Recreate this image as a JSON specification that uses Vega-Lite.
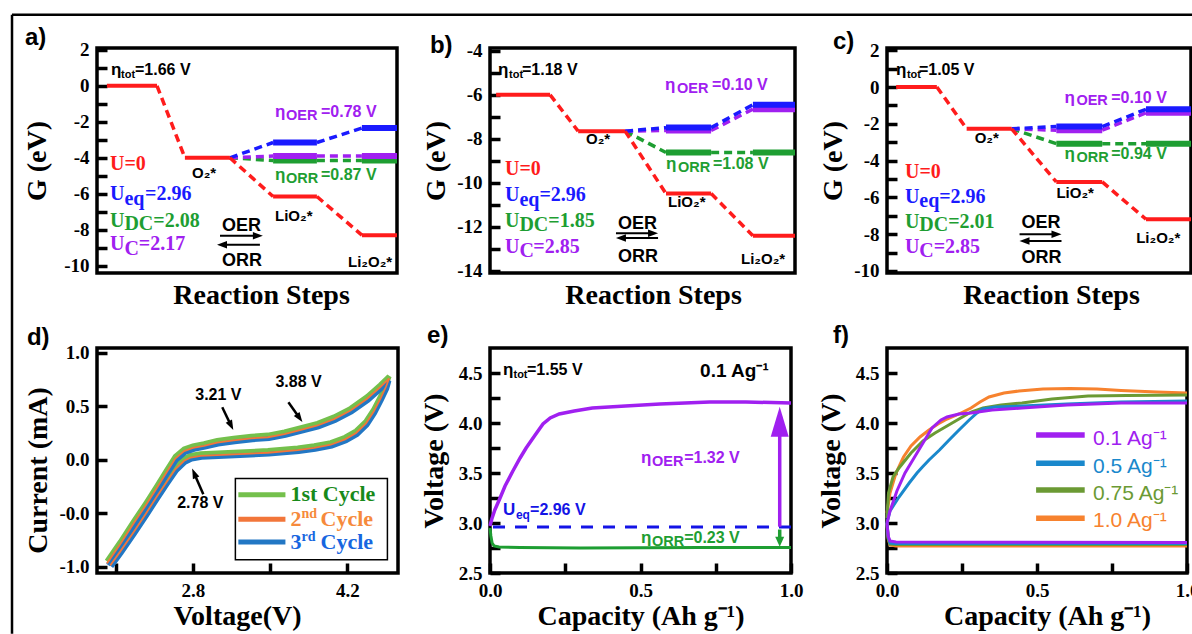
{
"$schema": "https://vega.github.io/schema/vega-lite/v6.json",
"autosize": {"type": "none"},
"padding": {"left": 97, "top": 48, "right": 1095, "bottom": 586},
"background": "white",
"config": {
 "view": {"stroke": "black", "strokeWidth": 3.5},
 "axis": {"domain": false, "grid": false, "tickColor": "black", "tickWidth": 3.5, "tickSize": 10, "offset": -10, "labelPadding": 8, "labelFont": "Liberation Serif", "labelFontWeight": "bold", "labelFontSize": 19, "labelColor": "black", "labelOverlap": false, "labelFlush": false, "titleFont": "Liberation Serif", "titleFontWeight": "bold", "titleFontSize": 28, "titleColor": "black"}
},
"columns": 3,
"spacing": {"row": 75, "column": 92},
"bounds": "flush",
"resolve": {"scale": {"color": "independent", "size": "independent", "shape": "independent"}},
"concat": [
{
 "width": 300, "height": 225,
 "data": {"values": [
  {"c":"UDC","k":"conn","x":4.43,"y":-4,"x2":5.87,"y2":-4.15},
  {"c":"UDC","k":"level","x":5.87,"y":-4.15,"x2":7.33,"y2":-4.15},
  {"c":"UDC","k":"conn","x":7.33,"y":-4.15,"x2":8.83,"y2":-4.15},
  {"c":"UDC","k":"level","x":8.83,"y":-4.15,"x2":10,"y2":-4.15},
  {"c":"UC","k":"conn","x":4.43,"y":-4,"x2":5.87,"y2":-3.9},
  {"c":"UC","k":"level","x":5.87,"y":-3.9,"x2":7.33,"y2":-3.9},
  {"c":"UC","k":"conn","x":7.33,"y":-3.9,"x2":8.83,"y2":-3.9},
  {"c":"UC","k":"level","x":8.83,"y":-3.9,"x2":10,"y2":-3.9},
  {"c":"Ueq","k":"conn","x":4.43,"y":-4,"x2":5.87,"y2":-3.15},
  {"c":"Ueq","k":"level","x":5.87,"y":-3.15,"x2":7.33,"y2":-3.15},
  {"c":"Ueq","k":"conn","x":7.33,"y":-3.15,"x2":8.83,"y2":-2.35},
  {"c":"Ueq","k":"level","x":8.83,"y":-2.35,"x2":10,"y2":-2.35},
  {"c":"U0","k":"level","x":0.33,"y":0,"x2":2.0,"y2":0},
  {"c":"U0","k":"conn","x":2.0,"y":0,"x2":2.93,"y2":-4},
  {"c":"U0","k":"level","x":2.93,"y":-4,"x2":4.43,"y2":-4},
  {"c":"U0","k":"conn","x":4.43,"y":-4,"x2":5.87,"y2":-6.15},
  {"c":"U0","k":"level","x":5.87,"y":-6.15,"x2":7.33,"y2":-6.15},
  {"c":"U0","k":"conn","x":7.33,"y":-6.15,"x2":8.83,"y2":-8.3},
  {"c":"U0","k":"level","x":8.83,"y":-8.3,"x2":10,"y2":-8.3}
 ]},
 "encoding": {
  "x": {"field": "x", "type": "quantitative", "scale": {"domain": [0, 10]}, "axis": {"title": "Reaction Steps", "labels": false, "ticks": false, "offset": 0, "titlePadding": 8, "titleX": 164}},
  "y": {"field": "y", "type": "quantitative", "scale": {"domain": [-10.4, 2.1]}, "axis": {"title": "G (eV)", "values": [-10,-9,-8,-7,-6,-5,-4,-3,-2,-1,0,1,2], "labelExpr": "datum.value % 2 != 0 ? '' : (datum.value < 0 ? '-' + abs(datum.value) : '' + datum.value)", "titlePadding": 12}}
 },
 "layer": [
  {"data": {"values": [{"x":-2.833,"y":3.944,"x2":36.5,"y2":3.944},{"x":-2.833,"y":3.944,"x2":-2.833,"y2":-30.44}]},
   "mark": {"type": "rule", "strokeWidth": 2.5, "color": "black"},
   "encoding": {"x2": {"field": "x2"}, "y2": {"field": "y2"}}},
  {"data": {"values": [{"x":-2.4,"y":2.28,"t":"a)"}]},
   "mark": {"type": "text", "font": "Liberation Sans", "fontWeight": "bold", "fontSize": 24, "align": "left", "baseline": "alphabetic", "color": "black"},
   "encoding": {"text": {"field": "t", "type": "nominal"}}},
  {"transform": [{"filter": "datum.k == 'conn'"}],
   "mark": {"type": "rule", "strokeWidth": 3.5, "strokeDash": [8, 5]},
   "encoding": {"x2": {"field": "x2"}, "y2": {"field": "y2"}, "color": {"field": "c", "type": "nominal", "scale": {"domain": ["k","U0","Ueq","UDC","UC"], "range": ["#000000","#ff1c1c","#1a1aff","#1e9e32","#a020f0"]}, "legend": null}}},
  {"transform": [{"filter": "datum.k == 'level' && datum.c != 'U0'"}],
   "mark": {"type": "rule", "strokeWidth": 6},
   "encoding": {"x2": {"field": "x2"}, "y2": {"field": "y2"}, "color": {"field": "c", "type": "nominal", "scale": {"domain": ["k","U0","Ueq","UDC","UC"], "range": ["#000000","#ff1c1c","#1a1aff","#1e9e32","#a020f0"]}, "legend": null}}},
  {"transform": [{"filter": "datum.k == 'level' && datum.c == 'U0'"}],
   "mark": {"type": "rule", "strokeWidth": 4, "color": "#ff1c1c"},
   "encoding": {"x2": {"field": "x2"}, "y2": {"field": "y2"}}},
  {"data": {"values": [{"x":4.1,"y":-8.33,"x2":5.363,"y2":-8.33},{"x":5.43,"y":-8.83,"x2":4.167,"y2":-8.83}]},
   "mark": {"type": "rule", "strokeWidth": 2, "color": "black"},
   "encoding": {"x2": {"field": "x2"}, "y2": {"field": "y2"}}},
  {"data": {"values": [{"x":5.363,"y":-8.33,"id":"R"},{"x":4.167,"y":-8.83,"id":"L"}]},
   "mark": {"type": "point", "filled": true, "color": "black", "size": 100, "opacity": 1, "strokeWidth": 0},
   "encoding": {"shape": {"field": "id", "type": "nominal", "scale": {"domain": ["R","L"], "range": ["M1,0L-1,-0.75L-1,0.75Z","M-1,0L1,-0.75L1,0.75Z"]}, "legend": null}}},
  {"data": {"values": [
    {"x":0.467,"y":0.611,"t":"η","r":"eta","c":"k"},
    {"x":0.8,"y":0.444,"t":"tot","r":"sub","c":"k"},
    {"x":1.267,"y":0.611,"t":"=1.66 V","r":"lab","c":"k"},
    {"x":3.167,"y":-5.11,"t":"O₂*","r":"sp","c":"k"},
    {"x":5.933,"y":-7.5,"t":"LiO₂*","r":"sp","c":"k"},
    {"x":8.367,"y":-10.06,"t":"Li₂O₂*","r":"sp","c":"k"},
    {"x":5.933,"y":-1.72,"t":"η","r":"eta","c":"UC"},
    {"x":6.3,"y":-1.89,"t":"OER","r":"subL","c":"UC"},
    {"x":7.467,"y":-1.72,"t":"=0.78 V","r":"lab","c":"UC"},
    {"x":5.933,"y":-5.22,"t":"η","r":"eta","c":"UDC"},
    {"x":6.3,"y":-5.39,"t":"ORR","r":"subL","c":"UDC"},
    {"x":7.467,"y":-5.22,"t":"=0.87 V","r":"lab","c":"UDC"},
    {"x":4.167,"y":-8.06,"t":"OER","r":"arr","c":"k"},
    {"x":4.167,"y":-10.0,"t":"ORR","r":"arr","c":"k"}
   ]},
   "mark": {"type": "text", "font": "Liberation Sans", "fontWeight": "bold", "align": "left", "baseline": "alphabetic"},
   "encoding": {"text": {"field": "t", "type": "nominal"},
    "size": {"field": "r", "type": "ordinal", "scale": {"type": "ordinal", "domain": ["eta","lab","sub","subL","sp","arr","ag","sub2","d","U","leg","legs"], "range": [17,16,11,14.5,15,18,19,12,16,20,22,14]}, "legend": null},
    "color": {"field": "c", "type": "nominal", "scale": {"domain": ["k","U0","Ueq","UDC","UC"], "range": ["#000000","#ff1c1c","#1a1aff","#1e9e32","#a020f0"]}, "legend": null}}},
  {"data": {"values": [
    {"x":0.433,"y":-4.67,"t":"U=0","r":"U","c":"U0"},
    {"x":0.433,"y":-6.33,"t":"U","r":"U","c":"Ueq"},
    {"x":0.913,"y":-6.61,"t":"eq","r":"U","c":"Ueq"},
    {"x":1.6,"y":-6.33,"t":"=2.96","r":"U","c":"Ueq"},
    {"x":0.433,"y":-7.83,"t":"U","r":"U","c":"UDC"},
    {"x":0.913,"y":-8.0,"t":"DC","r":"U","c":"UDC"},
    {"x":1.877,"y":-7.83,"t":"=2.08","r":"U","c":"UDC"},
    {"x":0.433,"y":-9.11,"t":"U","r":"U","c":"UC"},
    {"x":0.913,"y":-9.39,"t":"C","r":"U","c":"UC"},
    {"x":1.393,"y":-9.11,"t":"=2.17","r":"U","c":"UC"}
   ]},
   "mark": {"type": "text", "font": "Liberation Serif", "fontWeight": "bold", "align": "left", "baseline": "alphabetic"},
   "encoding": {"text": {"field": "t", "type": "nominal"},
    "size": {"field": "r", "type": "ordinal", "scale": {"type": "ordinal", "domain": ["eta","lab","sub","subL","sp","arr","ag","sub2","d","U","leg","legs"], "range": [17,16,11,14.5,15,18,19,12,16,20,22,14]}, "legend": null},
    "color": {"field": "c", "type": "nominal", "scale": {"domain": ["k","U0","Ueq","UDC","UC"], "range": ["#000000","#ff1c1c","#1a1aff","#1e9e32","#a020f0"]}, "legend": null}}}
 ]
},
{
 "width": 305, "height": 225,
 "data": {"values": [
  {"c":"UDC","k":"conn","x":4.43,"y":-7.65,"x2":5.77,"y2":-8.62},
  {"c":"UDC","k":"level","x":5.77,"y":-8.62,"x2":7.25,"y2":-8.62},
  {"c":"UDC","k":"conn","x":7.25,"y":-8.62,"x2":8.62,"y2":-8.62},
  {"c":"UDC","k":"level","x":8.62,"y":-8.62,"x2":10,"y2":-8.62},
  {"c":"UC","k":"conn","x":4.43,"y":-7.65,"x2":5.77,"y2":-7.62},
  {"c":"UC","k":"level","x":5.77,"y":-7.62,"x2":7.25,"y2":-7.62},
  {"c":"UC","k":"conn","x":7.25,"y":-7.62,"x2":8.62,"y2":-6.65},
  {"c":"UC","k":"level","x":8.62,"y":-6.65,"x2":10,"y2":-6.65},
  {"c":"Ueq","k":"conn","x":4.43,"y":-7.65,"x2":5.77,"y2":-7.49},
  {"c":"Ueq","k":"level","x":5.77,"y":-7.49,"x2":7.25,"y2":-7.49},
  {"c":"Ueq","k":"conn","x":7.25,"y":-7.49,"x2":8.62,"y2":-6.45},
  {"c":"Ueq","k":"level","x":8.62,"y":-6.45,"x2":10,"y2":-6.45},
  {"c":"U0","k":"level","x":0.2,"y":-6,"x2":1.97,"y2":-6},
  {"c":"U0","k":"conn","x":1.97,"y":-6,"x2":2.89,"y2":-7.65},
  {"c":"U0","k":"level","x":2.89,"y":-7.65,"x2":4.43,"y2":-7.65},
  {"c":"U0","k":"conn","x":4.43,"y":-7.65,"x2":5.77,"y2":-10.49},
  {"c":"U0","k":"level","x":5.77,"y":-10.49,"x2":7.25,"y2":-10.49},
  {"c":"U0","k":"conn","x":7.25,"y":-10.49,"x2":8.62,"y2":-12.41},
  {"c":"U0","k":"level","x":8.62,"y":-12.41,"x2":10,"y2":-12.41}
 ]},
 "encoding": {
  "x": {"field": "x", "type": "quantitative", "scale": {"domain": [0, 10]}, "axis": {"title": "Reaction Steps", "labels": false, "ticks": false, "offset": 0, "titlePadding": 8, "titleX": 163}},
  "y": {"field": "y", "type": "quantitative", "scale": {"domain": [-14.1, -3.87]}, "axis": {"title": "G (eV)", "values": [-14,-13,-12,-11,-10,-9,-8,-7,-6,-5,-4], "labelExpr": "datum.value % 2 != 0 ? '' : (datum.value < 0 ? '-' + abs(datum.value) : '' + datum.value)", "titlePadding": 6}}
 },
 "layer": [
  {"data": {"values": [{"x":-1.97,"y":-4.09,"t":"b)"}]},
   "mark": {"type": "text", "font": "Liberation Sans", "fontWeight": "bold", "fontSize": 24, "align": "left", "baseline": "alphabetic", "color": "black"},
   "encoding": {"text": {"field": "t", "type": "nominal"}}},
  {"transform": [{"filter": "datum.k == 'conn'"}],
   "mark": {"type": "rule", "strokeWidth": 3.5, "strokeDash": [8, 5]},
   "encoding": {"x2": {"field": "x2"}, "y2": {"field": "y2"}, "color": {"field": "c", "type": "nominal", "scale": {"domain": ["k","U0","Ueq","UDC","UC"], "range": ["#000000","#ff1c1c","#1a1aff","#1e9e32","#a020f0"]}, "legend": null}}},
  {"transform": [{"filter": "datum.k == 'level' && datum.c != 'U0'"}],
   "mark": {"type": "rule", "strokeWidth": 6},
   "encoding": {"x2": {"field": "x2"}, "y2": {"field": "y2"}, "color": {"field": "c", "type": "nominal", "scale": {"domain": ["k","U0","Ueq","UDC","UC"], "range": ["#000000","#ff1c1c","#1a1aff","#1e9e32","#a020f0"]}, "legend": null}}},
  {"transform": [{"filter": "datum.k == 'level' && datum.c == 'U0'"}],
   "mark": {"type": "rule", "strokeWidth": 4, "color": "#ff1c1c"},
   "encoding": {"x2": {"field": "x2"}, "y2": {"field": "y2"}}},
  {"data": {"values": [{"x":4.13,"y":-12.29,"x2":5.346,"y2":-12.29},{"x":5.51,"y":-12.51,"x2":4.294,"y2":-12.51}]},
   "mark": {"type": "rule", "strokeWidth": 2, "color": "black"},
   "encoding": {"x2": {"field": "x2"}, "y2": {"field": "y2"}}},
  {"data": {"values": [{"x":5.346,"y":-12.29,"id":"R"},{"x":4.294,"y":-12.51,"id":"L"}]},
   "mark": {"type": "point", "filled": true, "color": "black", "size": 100, "opacity": 1, "strokeWidth": 0},
   "encoding": {"shape": {"field": "id", "type": "nominal", "scale": {"domain": ["R","L"], "range": ["M1,0L-1,-0.75L-1,0.75Z","M-1,0L1,-0.75L1,0.75Z"]}, "legend": null}}},
  {"data": {"values": [
    {"x":0.262,"y":-5.09,"t":"η","r":"eta","c":"k"},
    {"x":0.623,"y":-5.23,"t":"tot","r":"sub","c":"k"},
    {"x":1.049,"y":-5.09,"t":"=1.18 V","r":"lab","c":"k"},
    {"x":3.148,"y":-8.24,"t":"O₂*","r":"sp","c":"k"},
    {"x":5.836,"y":-11.12,"t":"LiO₂*","r":"sp","c":"k"},
    {"x":8.23,"y":-13.7,"t":"Li₂O₂*","r":"sp","c":"k"},
    {"x":5.74,"y":-5.79,"t":"η","r":"eta","c":"UC"},
    {"x":6.13,"y":-5.91,"t":"OER","r":"subL","c":"UC"},
    {"x":7.28,"y":-5.79,"t":"=0.10 V","r":"lab","c":"UC"},
    {"x":5.77,"y":-9.38,"t":"η","r":"eta","c":"UDC"},
    {"x":6.16,"y":-9.5,"t":"ORR","r":"subL","c":"UDC"},
    {"x":7.31,"y":-9.38,"t":"=1.08 V","r":"lab","c":"UDC"},
    {"x":4.197,"y":-12.08,"t":"OER","r":"arr","c":"k"},
    {"x":4.197,"y":-13.62,"t":"ORR","r":"arr","c":"k"}
   ]},
   "mark": {"type": "text", "font": "Liberation Sans", "fontWeight": "bold", "align": "left", "baseline": "alphabetic"},
   "encoding": {"text": {"field": "t", "type": "nominal"},
    "size": {"field": "r", "type": "ordinal", "scale": {"type": "ordinal", "domain": ["eta","lab","sub","subL","sp","arr","ag","sub2","d","U","leg","legs"], "range": [17,16,11,14.5,15,18,19,12,16,20,22,14]}, "legend": null},
    "color": {"field": "c", "type": "nominal", "scale": {"domain": ["k","U0","Ueq","UDC","UC"], "range": ["#000000","#ff1c1c","#1a1aff","#1e9e32","#a020f0"]}, "legend": null}}},
  {"data": {"values": [
    {"x":0.492,"y":-9.64,"t":"U=0","r":"U","c":"U0"},
    {"x":0.492,"y":-10.82,"t":"U","r":"U","c":"Ueq"},
    {"x":0.964,"y":-11.05,"t":"eq","r":"U","c":"Ueq"},
    {"x":1.62,"y":-10.82,"t":"=2.96","r":"U","c":"Ueq"},
    {"x":0.492,"y":-12.03,"t":"U","r":"U","c":"UDC"},
    {"x":0.964,"y":-12.18,"t":"DC","r":"U","c":"UDC"},
    {"x":1.91,"y":-12.03,"t":"=1.85","r":"U","c":"UDC"},
    {"x":0.492,"y":-13.17,"t":"U","r":"U","c":"UC"},
    {"x":0.964,"y":-13.36,"t":"C","r":"U","c":"UC"},
    {"x":1.42,"y":-13.17,"t":"=2.85","r":"U","c":"UC"}
   ]},
   "mark": {"type": "text", "font": "Liberation Serif", "fontWeight": "bold", "align": "left", "baseline": "alphabetic"},
   "encoding": {"text": {"field": "t", "type": "nominal"},
    "size": {"field": "r", "type": "ordinal", "scale": {"type": "ordinal", "domain": ["eta","lab","sub","subL","sp","arr","ag","sub2","d","U","leg","legs"], "range": [17,16,11,14.5,15,18,19,12,16,20,22,14]}, "legend": null},
    "color": {"field": "c", "type": "nominal", "scale": {"domain": ["k","U0","Ueq","UDC","UC"], "range": ["#000000","#ff1c1c","#1a1aff","#1e9e32","#a020f0"]}, "legend": null}}}
 ]
},
{
 "width": 304, "height": 225,
 "data": {"values": [
  {"c":"UDC","k":"conn","x":4.1,"y":-2.27,"x2":5.57,"y2":-3.08},
  {"c":"UDC","k":"level","x":5.57,"y":-3.08,"x2":7.08,"y2":-3.08},
  {"c":"UDC","k":"conn","x":7.08,"y":-3.08,"x2":8.52,"y2":-3.08},
  {"c":"UDC","k":"level","x":8.52,"y":-3.08,"x2":10,"y2":-3.08},
  {"c":"UC","k":"conn","x":4.1,"y":-2.27,"x2":5.57,"y2":-2.35},
  {"c":"UC","k":"level","x":5.57,"y":-2.35,"x2":7.08,"y2":-2.35},
  {"c":"UC","k":"conn","x":7.08,"y":-2.35,"x2":8.52,"y2":-1.4},
  {"c":"UC","k":"level","x":8.52,"y":-1.4,"x2":10,"y2":-1.4},
  {"c":"Ueq","k":"conn","x":4.1,"y":-2.27,"x2":5.57,"y2":-2.15},
  {"c":"Ueq","k":"level","x":5.57,"y":-2.15,"x2":7.08,"y2":-2.15},
  {"c":"Ueq","k":"conn","x":7.08,"y":-2.15,"x2":8.52,"y2":-1.21},
  {"c":"Ueq","k":"level","x":8.52,"y":-1.21,"x2":10,"y2":-1.21},
  {"c":"U0","k":"level","x":0.3,"y":0,"x2":1.64,"y2":0},
  {"c":"U0","k":"conn","x":1.64,"y":0,"x2":2.62,"y2":-2.27},
  {"c":"U0","k":"level","x":2.62,"y":-2.27,"x2":4.1,"y2":-2.27},
  {"c":"U0","k":"conn","x":4.1,"y":-2.27,"x2":5.57,"y2":-5.16},
  {"c":"U0","k":"level","x":5.57,"y":-5.16,"x2":7.08,"y2":-5.16},
  {"c":"U0","k":"conn","x":7.08,"y":-5.16,"x2":8.52,"y2":-7.19},
  {"c":"U0","k":"level","x":8.52,"y":-7.19,"x2":10,"y2":-7.19}
 ]},
 "encoding": {
  "x": {"field": "x", "type": "quantitative", "scale": {"domain": [0, 10]}, "axis": {"title": "Reaction Steps", "labels": false, "ticks": false, "offset": 0, "titlePadding": 8, "titleX": 164}},
  "y": {"field": "y", "type": "quantitative", "scale": {"domain": [-10.11, 2.12]}, "axis": {"title": "G (eV)", "values": [-10,-9,-8,-7,-6,-5,-4,-3,-2,-1,0,1,2], "labelExpr": "datum.value % 2 != 0 ? '' : (datum.value < 0 ? '-' + abs(datum.value) : '' + datum.value)", "titlePadding": 6}}
 },
 "layer": [
  {"data": {"values": [{"x":-1.78,"y":2.07,"t":"c)"}]},
   "mark": {"type": "text", "font": "Liberation Sans", "fontWeight": "bold", "fontSize": 24, "align": "left", "baseline": "alphabetic", "color": "black"},
   "encoding": {"text": {"field": "t", "type": "nominal"}}},
  {"transform": [{"filter": "datum.k == 'conn'"}],
   "mark": {"type": "rule", "strokeWidth": 3.5, "strokeDash": [8, 5]},
   "encoding": {"x2": {"field": "x2"}, "y2": {"field": "y2"}, "color": {"field": "c", "type": "nominal", "scale": {"domain": ["k","U0","Ueq","UDC","UC"], "range": ["#000000","#ff1c1c","#1a1aff","#1e9e32","#a020f0"]}, "legend": null}}},
  {"transform": [{"filter": "datum.k == 'level' && datum.c != 'U0'"}],
   "mark": {"type": "rule", "strokeWidth": 6},
   "encoding": {"x2": {"field": "x2"}, "y2": {"field": "y2"}, "color": {"field": "c", "type": "nominal", "scale": {"domain": ["k","U0","Ueq","UDC","UC"], "range": ["#000000","#ff1c1c","#1a1aff","#1e9e32","#a020f0"]}, "legend": null}}},
  {"transform": [{"filter": "datum.k == 'level' && datum.c == 'U0'"}],
   "mark": {"type": "rule", "strokeWidth": 4, "color": "#ff1c1c"},
   "encoding": {"x2": {"field": "x2"}, "y2": {"field": "y2"}}},
  {"data": {"values": [{"x":4.36,"y":-8.01,"x2":5.576,"y2":-8.01},{"x":5.74,"y":-8.37,"x2":4.524,"y2":-8.37}]},
   "mark": {"type": "rule", "strokeWidth": 2, "color": "black"},
   "encoding": {"x2": {"field": "x2"}, "y2": {"field": "y2"}}},
  {"data": {"values": [{"x":5.576,"y":-8.01,"id":"R"},{"x":4.524,"y":-8.37,"id":"L"}]},
   "mark": {"type": "point", "filled": true, "color": "black", "size": 100, "opacity": 1, "strokeWidth": 0},
   "encoding": {"shape": {"field": "id", "type": "nominal", "scale": {"domain": ["R","L"], "range": ["M1,0L-1,-0.75L-1,0.75Z","M-1,0L1,-0.75L1,0.75Z"]}, "legend": null}}},
  {"data": {"values": [
    {"x":0.295,"y":0.652,"t":"η","r":"eta","c":"k"},
    {"x":0.656,"y":0.489,"t":"tot","r":"sub","c":"k"},
    {"x":1.049,"y":0.652,"t":"=1.05 V","r":"lab","c":"k"},
    {"x":2.885,"y":-3.03,"t":"O₂*","r":"sp","c":"k"},
    {"x":5.574,"y":-6.01,"t":"LiO₂*","r":"sp","c":"k"},
    {"x":8.197,"y":-8.46,"t":"Li₂O₂*","r":"sp","c":"k"},
    {"x":5.836,"y":-0.853,"t":"η","r":"eta","c":"UC"},
    {"x":6.23,"y":-1.0,"t":"OER","r":"subL","c":"UC"},
    {"x":7.377,"y":-0.853,"t":"=0.10 V","r":"lab","c":"UC"},
    {"x":5.836,"y":-3.93,"t":"η","r":"eta","c":"UDC"},
    {"x":6.23,"y":-4.08,"t":"ORR","r":"subL","c":"UDC"},
    {"x":7.377,"y":-3.93,"t":"=0.94 V","r":"lab","c":"UDC"},
    {"x":4.426,"y":-7.65,"t":"OER","r":"arr","c":"k"},
    {"x":4.426,"y":-9.55,"t":"ORR","r":"arr","c":"k"}
   ]},
   "mark": {"type": "text", "font": "Liberation Sans", "fontWeight": "bold", "align": "left", "baseline": "alphabetic"},
   "encoding": {"text": {"field": "t", "type": "nominal"},
    "size": {"field": "r", "type": "ordinal", "scale": {"type": "ordinal", "domain": ["eta","lab","sub","subL","sp","arr","ag","sub2","d","U","leg","legs"], "range": [17,16,11,14.5,15,18,19,12,16,20,22,14]}, "legend": null},
    "color": {"field": "c", "type": "nominal", "scale": {"domain": ["k","U0","Ueq","UDC","UC"], "range": ["#000000","#ff1c1c","#1a1aff","#1e9e32","#a020f0"]}, "legend": null}}},
  {"data": {"values": [
    {"x":0.59,"y":-4.93,"t":"U=0","r":"U","c":"U0"},
    {"x":0.59,"y":-6.29,"t":"U","r":"U","c":"Ueq"},
    {"x":1.062,"y":-6.52,"t":"eq","r":"U","c":"Ueq"},
    {"x":1.718,"y":-6.29,"t":"=2.96","r":"U","c":"Ueq"},
    {"x":0.59,"y":-7.65,"t":"U","r":"U","c":"UDC"},
    {"x":1.062,"y":-7.83,"t":"DC","r":"U","c":"UDC"},
    {"x":2.011,"y":-7.65,"t":"=2.01","r":"U","c":"UDC"},
    {"x":0.59,"y":-9.0,"t":"U","r":"U","c":"UC"},
    {"x":1.062,"y":-9.24,"t":"C","r":"U","c":"UC"},
    {"x":1.534,"y":-9.0,"t":"=2.85","r":"U","c":"UC"}
   ]},
   "mark": {"type": "text", "font": "Liberation Serif", "fontWeight": "bold", "align": "left", "baseline": "alphabetic"},
   "encoding": {"text": {"field": "t", "type": "nominal"},
    "size": {"field": "r", "type": "ordinal", "scale": {"type": "ordinal", "domain": ["eta","lab","sub","subL","sp","arr","ag","sub2","d","U","leg","legs"], "range": [17,16,11,14.5,15,18,19,12,16,20,22,14]}, "legend": null},
    "color": {"field": "c", "type": "nominal", "scale": {"domain": ["k","U0","Ueq","UDC","UC"], "range": ["#000000","#ff1c1c","#1a1aff","#1e9e32","#a020f0"]}, "legend": null}}}
 ]
},
{
 "width": 301, "height": 225,
 "data": {"values": [
  {"c":"1","i":0,"x":2.02,"y":-0.95},{"c":"1","i":1,"x":2.14,"y":-0.77},{"c":"1","i":2,"x":2.26,"y":-0.58},{"c":"1","i":3,"x":2.37,"y":-0.41},{"c":"1","i":4,"x":2.47,"y":-0.25},{"c":"1","i":5,"x":2.56,"y":-0.10},{"c":"1","i":6,"x":2.64,"y":0.03},{"c":"1","i":7,"x":2.72,"y":0.10},{"c":"1","i":8,"x":2.80,"y":0.13},{"c":"1","i":9,"x":2.90,"y":0.15},{"c":"1","i":10,"x":3.02,"y":0.18},{"c":"1","i":11,"x":3.17,"y":0.20},{"c":"1","i":12,"x":3.33,"y":0.22},{"c":"1","i":13,"x":3.48,"y":0.23},{"c":"1","i":14,"x":3.63,"y":0.26},{"c":"1","i":15,"x":3.78,"y":0.30},{"c":"1","i":16,"x":3.93,"y":0.34},{"c":"1","i":17,"x":4.08,"y":0.40},{"c":"1","i":18,"x":4.23,"y":0.48},{"c":"1","i":19,"x":4.38,"y":0.59},{"c":"1","i":20,"x":4.50,"y":0.70},{"c":"1","i":21,"x":4.58,"y":0.78},{"c":"1","i":22,"x":4.55,"y":0.70},{"c":"1","i":23,"x":4.50,"y":0.59},{"c":"1","i":24,"x":4.44,"y":0.47},{"c":"1","i":25,"x":4.37,"y":0.36},{"c":"1","i":26,"x":4.28,"y":0.27},{"c":"1","i":27,"x":4.18,"y":0.21},{"c":"1","i":28,"x":4.05,"y":0.16},{"c":"1","i":29,"x":3.90,"y":0.13},{"c":"1","i":30,"x":3.75,"y":0.11},{"c":"1","i":31,"x":3.48,"y":0.085},{"c":"1","i":32,"x":3.17,"y":0.07},{"c":"1","i":33,"x":2.87,"y":0.055},{"c":"1","i":34,"x":2.78,"y":0.04},{"c":"1","i":35,"x":2.72,"y":0.01},{"c":"1","i":36,"x":2.64,"y":-0.07},{"c":"1","i":37,"x":2.56,"y":-0.19},{"c":"1","i":38,"x":2.47,"y":-0.33},{"c":"1","i":39,"x":2.37,"y":-0.49},{"c":"1","i":40,"x":2.26,"y":-0.66},{"c":"1","i":41,"x":2.14,"y":-0.84},{"c":"1","i":42,"x":2.05,"y":-0.97},
  {"c":"2","i":0,"x":2.02,"y":-0.97},{"c":"2","i":1,"x":2.14,"y":-0.79},{"c":"2","i":2,"x":2.26,"y":-0.60},{"c":"2","i":3,"x":2.37,"y":-0.43},{"c":"2","i":4,"x":2.47,"y":-0.27},{"c":"2","i":5,"x":2.56,"y":-0.12},{"c":"2","i":6,"x":2.64,"y":0.01},{"c":"2","i":7,"x":2.72,"y":0.08},{"c":"2","i":8,"x":2.80,"y":0.11},{"c":"2","i":9,"x":2.90,"y":0.13},{"c":"2","i":10,"x":3.02,"y":0.16},{"c":"2","i":11,"x":3.17,"y":0.18},{"c":"2","i":12,"x":3.33,"y":0.20},{"c":"2","i":13,"x":3.48,"y":0.21},{"c":"2","i":14,"x":3.63,"y":0.24},{"c":"2","i":15,"x":3.78,"y":0.28},{"c":"2","i":16,"x":3.93,"y":0.32},{"c":"2","i":17,"x":4.08,"y":0.38},{"c":"2","i":18,"x":4.23,"y":0.46},{"c":"2","i":19,"x":4.38,"y":0.57},{"c":"2","i":20,"x":4.50,"y":0.68},{"c":"2","i":21,"x":4.58,"y":0.76},{"c":"2","i":22,"x":4.55,"y":0.68},{"c":"2","i":23,"x":4.50,"y":0.57},{"c":"2","i":24,"x":4.44,"y":0.45},{"c":"2","i":25,"x":4.37,"y":0.34},{"c":"2","i":26,"x":4.28,"y":0.25},{"c":"2","i":27,"x":4.18,"y":0.19},{"c":"2","i":28,"x":4.05,"y":0.14},{"c":"2","i":29,"x":3.90,"y":0.11},{"c":"2","i":30,"x":3.75,"y":0.09},{"c":"2","i":31,"x":3.48,"y":0.065},{"c":"2","i":32,"x":3.17,"y":0.05},{"c":"2","i":33,"x":2.87,"y":0.035},{"c":"2","i":34,"x":2.78,"y":0.02},{"c":"2","i":35,"x":2.72,"y":-0.01},{"c":"2","i":36,"x":2.64,"y":-0.09},{"c":"2","i":37,"x":2.56,"y":-0.21},{"c":"2","i":38,"x":2.47,"y":-0.35},{"c":"2","i":39,"x":2.37,"y":-0.51},{"c":"2","i":40,"x":2.26,"y":-0.68},{"c":"2","i":41,"x":2.14,"y":-0.86},{"c":"2","i":42,"x":2.05,"y":-0.99},
  {"c":"3","i":0,"x":2.03,"y":-0.985},{"c":"3","i":1,"x":2.15,"y":-0.805},{"c":"3","i":2,"x":2.27,"y":-0.615},{"c":"3","i":3,"x":2.38,"y":-0.445},{"c":"3","i":4,"x":2.48,"y":-0.285},{"c":"3","i":5,"x":2.57,"y":-0.135},{"c":"3","i":6,"x":2.65,"y":-0.005},{"c":"3","i":7,"x":2.73,"y":0.065},{"c":"3","i":8,"x":2.81,"y":0.095},{"c":"3","i":9,"x":2.91,"y":0.115},{"c":"3","i":10,"x":3.03,"y":0.145},{"c":"3","i":11,"x":3.18,"y":0.165},{"c":"3","i":12,"x":3.34,"y":0.185},{"c":"3","i":13,"x":3.49,"y":0.195},{"c":"3","i":14,"x":3.64,"y":0.225},{"c":"3","i":15,"x":3.79,"y":0.265},{"c":"3","i":16,"x":3.94,"y":0.305},{"c":"3","i":17,"x":4.09,"y":0.365},{"c":"3","i":18,"x":4.24,"y":0.445},{"c":"3","i":19,"x":4.39,"y":0.555},{"c":"3","i":20,"x":4.51,"y":0.665},{"c":"3","i":21,"x":4.58,"y":0.74},{"c":"3","i":22,"x":4.56,"y":0.665},{"c":"3","i":23,"x":4.51,"y":0.555},{"c":"3","i":24,"x":4.45,"y":0.435},{"c":"3","i":25,"x":4.38,"y":0.325},{"c":"3","i":26,"x":4.29,"y":0.235},{"c":"3","i":27,"x":4.19,"y":0.175},{"c":"3","i":28,"x":4.06,"y":0.125},{"c":"3","i":29,"x":3.91,"y":0.095},{"c":"3","i":30,"x":3.76,"y":0.075},{"c":"3","i":31,"x":3.49,"y":0.05},{"c":"3","i":32,"x":3.18,"y":0.035},{"c":"3","i":33,"x":2.88,"y":0.02},{"c":"3","i":34,"x":2.79,"y":0.005},{"c":"3","i":35,"x":2.73,"y":-0.025},{"c":"3","i":36,"x":2.65,"y":-0.105},{"c":"3","i":37,"x":2.57,"y":-0.225},{"c":"3","i":38,"x":2.48,"y":-0.365},{"c":"3","i":39,"x":2.38,"y":-0.525},{"c":"3","i":40,"x":2.27,"y":-0.695},{"c":"3","i":41,"x":2.15,"y":-0.875},{"c":"3","i":42,"x":2.06,"y":-1.0}
 ]},
 "encoding": {
  "x": {"field": "x", "type": "quantitative", "scale": {"domain": [1.93, 4.66]}, "axis": {"title": "Voltage(V)", "values": [2.1, 2.8, 3.5, 4.2], "labelExpr": "datum.value == 2.8 || datum.value == 4.2 ? format(datum.value, '.1f') : ''", "titlePadding": 2, "titleX": 140}},
  "y": {"field": "y", "type": "quantitative", "scale": {"domain": [-1.06, 1.045]}, "axis": {"title": "Current (mA)", "values": [-1, -0.5, 0, 0.5, 1], "labelExpr": "datum.value == -0.5 ? '-0.0' : (datum.value < 0 ? '-' + format(abs(datum.value), '.1f') : format(datum.value, '.1f'))", "titlePadding": 6, "titleY": 122}}
 },
 "layer": [
  {"data": {"values": [{"x":1.294,"y":1.074,"t":"d)"}]},
   "mark": {"type": "text", "font": "Liberation Sans", "fontWeight": "bold", "fontSize": 24, "align": "left", "baseline": "alphabetic", "color": "black"},
   "encoding": {"text": {"field": "t", "type": "nominal"}}},
  {"transform": [{"filter": "datum.c == '1'"}], "mark": {"type": "line", "color": "#74c04c", "strokeWidth": 5}, "encoding": {"order": {"field": "i", "type": "quantitative"}}},
  {"transform": [{"filter": "datum.c == '3'"}], "mark": {"type": "line", "color": "#2277c4", "strokeWidth": 4.5}, "encoding": {"order": {"field": "i", "type": "quantitative"}}},
  {"transform": [{"filter": "datum.c == '2'"}], "mark": {"type": "line", "color": "#f2763a", "strokeWidth": 1.8}, "encoding": {"order": {"field": "i", "type": "quantitative"}}},
  {"data": {"values": [{"x":3.066,"y":0.49,"x2":3.146,"y2":0.319},{"x":3.666,"y":0.537,"x2":3.767,"y2":0.39},{"x":2.894,"y":-0.324,"x2":2.811,"y2":-0.126}]},
   "mark": {"type": "rule", "strokeWidth": 2.5, "color": "black"},
   "encoding": {"x2": {"field": "x2"}, "y2": {"field": "y2"}}},
  {"data": {"values": [{"x":3.146,"y":0.319,"id":"d1"},{"x":3.767,"y":0.39,"id":"d2"},{"x":2.811,"y":-0.126,"id":"d3"}]},
   "mark": {"type": "point", "filled": true, "color": "black", "size": 100, "opacity": 1, "strokeWidth": 0},
   "encoding": {"shape": {"field": "id", "type": "nominal", "scale": {"domain": ["d1","d2","d3"], "range": ["M0.44,0.9L-1.07,-0.59L0.19,-1.21Z","M0.57,0.82L-1.15,-0.42L0,-1.22Z","M-0.39,-0.92L1.04,0.65L-0.25,1.2Z"]}, "legend": null}}},
  {"data": {"values": [
    {"x":2.821,"y":0.556,"t":"3.21 V","r":"d"},
    {"x":3.548,"y":0.676,"t":"3.88 V","r":"d"},
    {"x":2.657,"y":-0.451,"t":"2.78 V","r":"d"}
   ]},
   "mark": {"type": "text", "font": "Liberation Sans", "fontWeight": "bold", "align": "left", "baseline": "alphabetic", "color": "black"},
   "encoding": {"text": {"field": "t", "type": "nominal"},
    "size": {"field": "r", "type": "ordinal", "scale": {"type": "ordinal", "domain": ["eta","lab","sub","subL","sp","arr","ag","sub2","d","U","leg","legs"], "range": [17,16,11,14.5,15,18,19,12,16,20,22,14]}, "legend": null}}},
  {"data": {"values": [{"x":3.185,"y":-0.176,"x2":4.564,"y2":-0.935}]},
   "mark": {"type": "rect", "fill": "white", "stroke": "black", "strokeWidth": 1.5},
   "encoding": {"x2": {"field": "x2"}, "y2": {"field": "y2"}}},
  {"data": {"values": [{"x":3.212,"y":-0.327,"x2":3.639,"y2":-0.327,"c":"1"},{"x":3.212,"y":-0.558,"x2":3.639,"y2":-0.558,"c":"2"},{"x":3.212,"y":-0.769,"x2":3.639,"y2":-0.769,"c":"3"}]},
   "mark": {"type": "rule", "strokeWidth": 5},
   "encoding": {"x2": {"field": "x2"}, "y2": {"field": "y2"}, "color": {"field": "c", "type": "nominal", "scale": {"domain": ["1","2","3","t1","t2","t3"], "range": ["#74c04c","#f2763a","#2277c4","#188a1a","#f68a3c","#1766e0"]}, "legend": null}}},
  {"data": {"values": [
    {"x":3.684,"y":-0.383,"t":"1st Cycle","r":"leg","c":"t1"},
    {"x":3.684,"y":-0.62,"t":"2","r":"leg","c":"t2"},
    {"x":3.785,"y":-0.545,"t":"nd","r":"legs","c":"t2"},
    {"x":3.957,"y":-0.62,"t":"Cycle","r":"leg","c":"t2"},
    {"x":3.684,"y":-0.836,"t":"3","r":"leg","c":"t3"},
    {"x":3.785,"y":-0.761,"t":"rd","r":"legs","c":"t3"},
    {"x":3.957,"y":-0.836,"t":"Cycle","r":"leg","c":"t3"}
   ]},
   "mark": {"type": "text", "font": "Liberation Serif", "fontWeight": "bold", "align": "left", "baseline": "alphabetic"},
   "encoding": {"text": {"field": "t", "type": "nominal"},
    "size": {"field": "r", "type": "ordinal", "scale": {"type": "ordinal", "domain": ["eta","lab","sub","subL","sp","arr","ag","sub2","d","U","leg","legs"], "range": [17,16,11,14.5,15,18,19,12,16,20,22,14]}, "legend": null},
    "color": {"field": "c", "type": "nominal", "scale": {"domain": ["1","2","3","t1","t2","t3"], "range": ["#74c04c","#f2763a","#2277c4","#188a1a","#f68a3c","#1766e0"]}, "legend": null}}}
 ]
},
{
 "width": 301, "height": 225,
 "data": {"values": [
  {"ph":"c","x":0,"y":2.97},{"ph":"c","x":0.006,"y":3.04},{"ph":"c","x":0.016,"y":3.13},{"ph":"c","x":0.032,"y":3.24},{"ph":"c","x":0.05,"y":3.37},{"ph":"c","x":0.076,"y":3.52},{"ph":"c","x":0.1,"y":3.65},{"ph":"c","x":0.12,"y":3.75},{"ph":"c","x":0.15,"y":3.88},{"ph":"c","x":0.176,"y":3.99},{"ph":"c","x":0.2,"y":4.05},{"ph":"c","x":0.23,"y":4.09},{"ph":"c","x":0.28,"y":4.12},{"ph":"c","x":0.34,"y":4.15},{"ph":"c","x":0.45,"y":4.17},{"ph":"c","x":0.565,"y":4.19},{"ph":"c","x":0.73,"y":4.21},{"ph":"c","x":0.85,"y":4.21},{"ph":"c","x":1.0,"y":4.2},
  {"ph":"d","x":0,"y":2.95},{"ph":"d","x":0.003,"y":2.87},{"ph":"d","x":0.007,"y":2.8},{"ph":"d","x":0.014,"y":2.77},{"ph":"d","x":0.03,"y":2.76},{"ph":"d","x":0.1,"y":2.755},{"ph":"d","x":0.3,"y":2.75},{"ph":"d","x":0.5,"y":2.752},{"ph":"d","x":0.7,"y":2.755},{"ph":"d","x":1.0,"y":2.755}
 ]},
 "encoding": {
  "x": {"field": "x", "type": "quantitative", "scale": {"domain": [0, 1]}, "axis": {"title": "Capacity (Ah g⁻¹)", "values": [0, 0.25, 0.5, 0.75, 1], "labelExpr": "(datum.value * 4) % 2 == 0 ? format(datum.value, '.1f') : ''", "titlePadding": 2}},
  "y": {"field": "y", "type": "quantitative", "scale": {"domain": [2.5, 4.75]}, "axis": {"title": "Voltage (V)", "values": [2.5, 2.75, 3, 3.25, 3.5, 3.75, 4, 4.25, 4.5], "labelExpr": "(datum.value * 4) % 2 == 0 ? format(datum.value, '.1f') : ''", "titlePadding": 10}}
 },
 "layer": [
  {"data": {"values": [{"x":-0.209,"y":4.8,"t":"e)"}]},
   "mark": {"type": "text", "font": "Liberation Sans", "fontWeight": "bold", "fontSize": 24, "align": "left", "baseline": "alphabetic", "color": "black"},
   "encoding": {"text": {"field": "t", "type": "nominal"}}},
  {"data": {"values": [{"x":0.01,"y":2.96,"x2":1,"y2":2.96}]},
   "mark": {"type": "rule", "strokeWidth": 3, "strokeDash": [12, 10], "color": "#1414e6"},
   "encoding": {"x2": {"field": "x2"}, "y2": {"field": "y2"}}},
  {"transform": [{"filter": "datum.ph == 'd'"}], "mark": {"type": "line", "color": "#1e9e32", "strokeWidth": 3}, "encoding": {}},
  {"transform": [{"filter": "datum.ph == 'c'"}], "mark": {"type": "line", "color": "#a020f0", "strokeWidth": 3.5}, "encoding": {}},
  {"data": {"values": [{"x":0.9625,"y":2.963,"x2":0.9625,"y2":4.013,"c":"p"},{"x":0.9625,"y":2.935,"x2":0.9625,"y2":2.813,"c":"g"}]},
   "mark": {"type": "rule", "strokeWidth": 3.5},
   "encoding": {"x2": {"field": "x2"}, "y2": {"field": "y2"}, "color": {"field": "c", "type": "nominal", "scale": {"domain": ["p","g","b","k"], "range": ["#a020f0","#1e9e32","#1414e6","#000000"]}, "legend": null}}},
  {"data": {"values": [{"x":0.9625,"y":4.013,"id":"U","c":"p"},{"x":0.9625,"y":2.813,"id":"D","c":"g"}]},
   "mark": {"type": "point", "filled": true, "size": 100, "opacity": 1, "strokeWidth": 0},
   "encoding": {"shape": {"field": "id", "type": "nominal", "scale": {"domain": ["U","D"], "range": ["M0,-3L1.8,3L-1.8,3Z","M0,1L0.9,-1L-0.9,-1Z"]}, "legend": null},
    "color": {"field": "c", "type": "nominal", "scale": {"domain": ["p","g","b","k"], "range": ["#a020f0","#1e9e32","#1414e6","#000000"]}, "legend": null}}},
  {"data": {"values": [
    {"x":0.043,"y":4.48,"t":"η","r":"eta","c":"k"},
    {"x":0.078,"y":4.45,"t":"tot","r":"sub","c":"k"},
    {"x":0.123,"y":4.48,"t":"=1.55 V","r":"lab","c":"k"},
    {"x":0.698,"y":4.46,"t":"0.1 Ag⁻¹","r":"ag","c":"k"},
    {"x":0.502,"y":3.6,"t":"η","r":"eta","c":"p"},
    {"x":0.538,"y":3.57,"t":"OER","r":"subL","c":"p"},
    {"x":0.645,"y":3.6,"t":"=1.32 V","r":"lab","c":"p"},
    {"x":0.043,"y":3.08,"t":"U","r":"eta","c":"b"},
    {"x":0.086,"y":3.04,"t":"eq","r":"sub2","c":"b"},
    {"x":0.133,"y":3.08,"t":"=2.96 V","r":"lab","c":"b"},
    {"x":0.502,"y":2.8,"t":"η","r":"eta","c":"g"},
    {"x":0.538,"y":2.77,"t":"ORR","r":"subL","c":"g"},
    {"x":0.645,"y":2.8,"t":"=0.23 V","r":"lab","c":"g"}
   ]},
   "mark": {"type": "text", "font": "Liberation Sans", "fontWeight": "bold", "align": "left", "baseline": "alphabetic"},
   "encoding": {"text": {"field": "t", "type": "nominal"},
    "size": {"field": "r", "type": "ordinal", "scale": {"type": "ordinal", "domain": ["eta","lab","sub","subL","sp","arr","ag","sub2","d","U","leg","legs"], "range": [17,16,11,14.5,15,18,19,12,16,20,22,14]}, "legend": null},
    "color": {"field": "c", "type": "nominal", "scale": {"domain": ["p","g","b","k"], "range": ["#a020f0","#1e9e32","#1414e6","#000000"]}, "legend": null}}}
 ]
},
{
 "width": 300, "height": 225,
 "data": {"values": [
  {"s":"1.0","ph":"c","x":0,"y":3.1},{"s":"1.0","ph":"c","x":0.01,"y":3.3},{"s":"1.0","ph":"c","x":0.03,"y":3.5},{"s":"1.0","ph":"c","x":0.055,"y":3.66},{"s":"1.0","ph":"c","x":0.08,"y":3.77},{"s":"1.0","ph":"c","x":0.11,"y":3.86},{"s":"1.0","ph":"c","x":0.14,"y":3.93},{"s":"1.0","ph":"c","x":0.17,"y":3.99},{"s":"1.0","ph":"c","x":0.2,"y":4.04},{"s":"1.0","ph":"c","x":0.24,"y":4.09},{"s":"1.0","ph":"c","x":0.28,"y":4.15},{"s":"1.0","ph":"c","x":0.31,"y":4.21},{"s":"1.0","ph":"c","x":0.34,"y":4.26},{"s":"1.0","ph":"c","x":0.39,"y":4.3},{"s":"1.0","ph":"c","x":0.44,"y":4.32},{"s":"1.0","ph":"c","x":0.52,"y":4.34},{"s":"1.0","ph":"c","x":0.61,"y":4.345},{"s":"1.0","ph":"c","x":0.7,"y":4.34},{"s":"1.0","ph":"c","x":0.78,"y":4.325},{"s":"1.0","ph":"c","x":0.9,"y":4.31},{"s":"1.0","ph":"c","x":1.0,"y":4.3},
  {"s":"1.0","ph":"d","x":0,"y":3.0},{"s":"1.0","ph":"d","x":0.004,"y":2.84},{"s":"1.0","ph":"d","x":0.01,"y":2.78},{"s":"1.0","ph":"d","x":0.03,"y":2.77},{"s":"1.0","ph":"d","x":1.0,"y":2.77},
  {"s":"0.75","ph":"c","x":0,"y":3.05},{"s":"0.75","ph":"c","x":0.005,"y":3.3},{"s":"0.75","ph":"c","x":0.02,"y":3.46},{"s":"0.75","ph":"c","x":0.04,"y":3.55},{"s":"0.75","ph":"c","x":0.08,"y":3.7},{"s":"0.75","ph":"c","x":0.12,"y":3.82},{"s":"0.75","ph":"c","x":0.16,"y":3.9},{"s":"0.75","ph":"c","x":0.2,"y":3.97},{"s":"0.75","ph":"c","x":0.24,"y":4.04},{"s":"0.75","ph":"c","x":0.28,"y":4.11},{"s":"0.75","ph":"c","x":0.32,"y":4.15},{"s":"0.75","ph":"c","x":0.38,"y":4.18},{"s":"0.75","ph":"c","x":0.45,"y":4.2},{"s":"0.75","ph":"c","x":0.55,"y":4.24},{"s":"0.75","ph":"c","x":0.67,"y":4.27},{"s":"0.75","ph":"c","x":0.8,"y":4.275},{"s":"0.75","ph":"c","x":1.0,"y":4.28},
  {"s":"0.75","ph":"d","x":0,"y":3.0},{"s":"0.75","ph":"d","x":0.004,"y":2.85},{"s":"0.75","ph":"d","x":0.01,"y":2.79},{"s":"0.75","ph":"d","x":0.03,"y":2.785},{"s":"0.75","ph":"d","x":1.0,"y":2.785},
  {"s":"0.5","ph":"c","x":0,"y":3.0},{"s":"0.5","ph":"c","x":0.01,"y":3.12},{"s":"0.5","ph":"c","x":0.04,"y":3.26},{"s":"0.5","ph":"c","x":0.074,"y":3.4},{"s":"0.5","ph":"c","x":0.1,"y":3.5},{"s":"0.5","ph":"c","x":0.118,"y":3.56},{"s":"0.5","ph":"c","x":0.14,"y":3.63},{"s":"0.5","ph":"c","x":0.175,"y":3.73},{"s":"0.5","ph":"c","x":0.207,"y":3.83},{"s":"0.5","ph":"c","x":0.24,"y":3.93},{"s":"0.5","ph":"c","x":0.274,"y":4.03},{"s":"0.5","ph":"c","x":0.3,"y":4.1},{"s":"0.5","ph":"c","x":0.319,"y":4.14},{"s":"0.5","ph":"c","x":0.36,"y":4.16},{"s":"0.5","ph":"c","x":0.45,"y":4.17},{"s":"0.5","ph":"c","x":0.6,"y":4.19},{"s":"0.5","ph":"c","x":0.78,"y":4.21},{"s":"0.5","ph":"c","x":1.0,"y":4.22},
  {"s":"0.5","ph":"d","x":0,"y":3.0},{"s":"0.5","ph":"d","x":0.004,"y":2.86},{"s":"0.5","ph":"d","x":0.01,"y":2.8},{"s":"0.5","ph":"d","x":0.03,"y":2.795},{"s":"0.5","ph":"d","x":1.0,"y":2.795},
  {"s":"0.1","ph":"c","x":0,"y":3.0},{"s":"0.1","ph":"c","x":0.01,"y":3.12},{"s":"0.1","ph":"c","x":0.033,"y":3.32},{"s":"0.1","ph":"c","x":0.06,"y":3.5},{"s":"0.1","ph":"c","x":0.09,"y":3.65},{"s":"0.1","ph":"c","x":0.12,"y":3.8},{"s":"0.1","ph":"c","x":0.15,"y":3.95},{"s":"0.1","ph":"c","x":0.18,"y":4.03},{"s":"0.1","ph":"c","x":0.2,"y":4.06},{"s":"0.1","ph":"c","x":0.24,"y":4.09},{"s":"0.1","ph":"c","x":0.28,"y":4.1},{"s":"0.1","ph":"c","x":0.35,"y":4.13},{"s":"0.1","ph":"c","x":0.45,"y":4.15},{"s":"0.1","ph":"c","x":0.6,"y":4.18},{"s":"0.1","ph":"c","x":0.78,"y":4.2},{"s":"0.1","ph":"c","x":1.0,"y":4.2},
  {"s":"0.1","ph":"d","x":0,"y":3.0},{"s":"0.1","ph":"d","x":0.004,"y":2.87},{"s":"0.1","ph":"d","x":0.01,"y":2.82},{"s":"0.1","ph":"d","x":0.03,"y":2.81},{"s":"0.1","ph":"d","x":1.0,"y":2.805}
 ]},
 "encoding": {
  "x": {"field": "x", "type": "quantitative", "scale": {"domain": [0, 1]}, "axis": {"title": "Capacity (Ah g⁻¹)", "values": [0, 0.25, 0.5, 0.75, 1], "labelExpr": "(datum.value * 4) % 2 == 0 ? format(datum.value, '.1f') : ''", "titlePadding": 2, "titleX": 160}},
  "y": {"field": "y", "type": "quantitative", "scale": {"domain": [2.5, 4.75]}, "axis": {"title": "Voltage (V)", "values": [2.5, 2.75, 3, 3.25, 3.5, 3.75, 4, 4.25, 4.5], "labelExpr": "(datum.value * 4) % 2 == 0 ? format(datum.value, '.1f') : ''", "titlePadding": 10}}
 },
 "layer": [
  {"data": {"values": [{"x":-0.18,"y":4.8,"t":"f)"}]},
   "mark": {"type": "text", "font": "Liberation Sans", "fontWeight": "bold", "fontSize": 24, "align": "left", "baseline": "alphabetic", "color": "black"},
   "encoding": {"text": {"field": "t", "type": "nominal"}}},
  {"mark": {"type": "line", "strokeWidth": 3},
   "encoding": {"detail": {"field": "ph", "type": "nominal"}, "color": {"field": "s", "type": "nominal", "sort": null, "scale": {"domain": ["0.1","0.5","0.75","1.0"], "range": ["#a020f0","#1a88cc","#6b9a34","#f7822e"]}, "legend": null}}},
  {"data": {"values": [{"x":0.497,"y":3.88,"x2":0.659,"y2":3.88,"s":"0.1"},{"x":0.497,"y":3.597,"x2":0.659,"y2":3.597,"s":"0.5"},{"x":0.497,"y":3.33,"x2":0.659,"y2":3.33,"s":"0.75"},{"x":0.497,"y":3.047,"x2":0.659,"y2":3.047,"s":"1.0"}]},
   "mark": {"type": "rule", "strokeWidth": 5.5},
   "encoding": {"x2": {"field": "x2"}, "y2": {"field": "y2"}, "color": {"field": "s", "type": "nominal", "scale": {"domain": ["0.1","0.5","0.75","1.0"], "range": ["#a020f0","#1a88cc","#6b9a34","#f7822e"]}, "legend": null}}},
  {"data": {"values": [{"x":0.687,"y":3.78,"t":"0.1 Ag⁻¹","s":"0.1"},{"x":0.687,"y":3.497,"t":"0.5 Ag⁻¹","s":"0.5"},{"x":0.687,"y":3.23,"t":"0.75 Ag⁻¹","s":"0.75"},{"x":0.687,"y":2.963,"t":"1.0 Ag⁻¹","s":"1.0"}]},
   "mark": {"type": "text", "font": "Liberation Sans", "fontSize": 21, "align": "left", "baseline": "alphabetic"},
   "encoding": {"text": {"field": "t", "type": "nominal"}, "color": {"field": "s", "type": "nominal", "scale": {"domain": ["0.1","0.5","0.75","1.0"], "range": ["#a020f0","#1a88cc","#6b9a34","#f7822e"]}, "legend": null}}}
 ]
}
]
}
